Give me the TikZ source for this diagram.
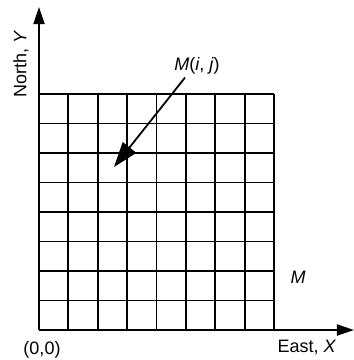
\documentclass[tikz,border=0pt]{standalone}
\usepackage{fontspec}
\setmainfont{Liberation Sans}
\usetikzlibrary{arrows.meta}

\begin{document}
\begin{tikzpicture}[
  x=1pt, y=-1pt,
  font=\fontsize{18}{21}\selectfont,
  gridline/.style={line width=1.8pt},
  axis/.style={line width=1.8pt, -{Triangle[length=17pt,width=11pt]}},
  ptr/.style={line width=1.8pt, -{Triangle[length=25pt,width=17pt]}},
  lbl/.style={inner sep=0pt},
]
\useasboundingbox (0,0) rectangle (354,360);

% 8 x 8 grid
\foreach \i in {0,...,8} {
  \draw[gridline] (39+\i*29.375,94) -- (39+\i*29.375,330);
  \draw[gridline] (39,94+\i*29.5) -- (274,94+\i*29.5);
}

\coordinate (origin) at (39,330);
\coordinate (xend) at (354,330);
\coordinate (yend) at (39,7);
\coordinate (cell) at (114,167);

\draw[axis] (origin) -- (xend);
\draw[axis] (origin) -- (yend);

\node[lbl] (north) at (21,64) [rotate=90] {North, \textit{Y}};
\node[lbl] (east)  at (307,347) {East, \textit{X}};
\node[lbl] (zero)  at (42,350) {(0,0)};
\node[lbl] (mname) at (298,277) {\textit{M}};
\node[lbl] (mij)   at (197,66) {\textit{M}(\textit{i}, \textit{j})};

\draw[ptr] (mij.south) ++(-12,3) coordinate (ptrstart) -- (cell);
\end{tikzpicture}
\end{document}
